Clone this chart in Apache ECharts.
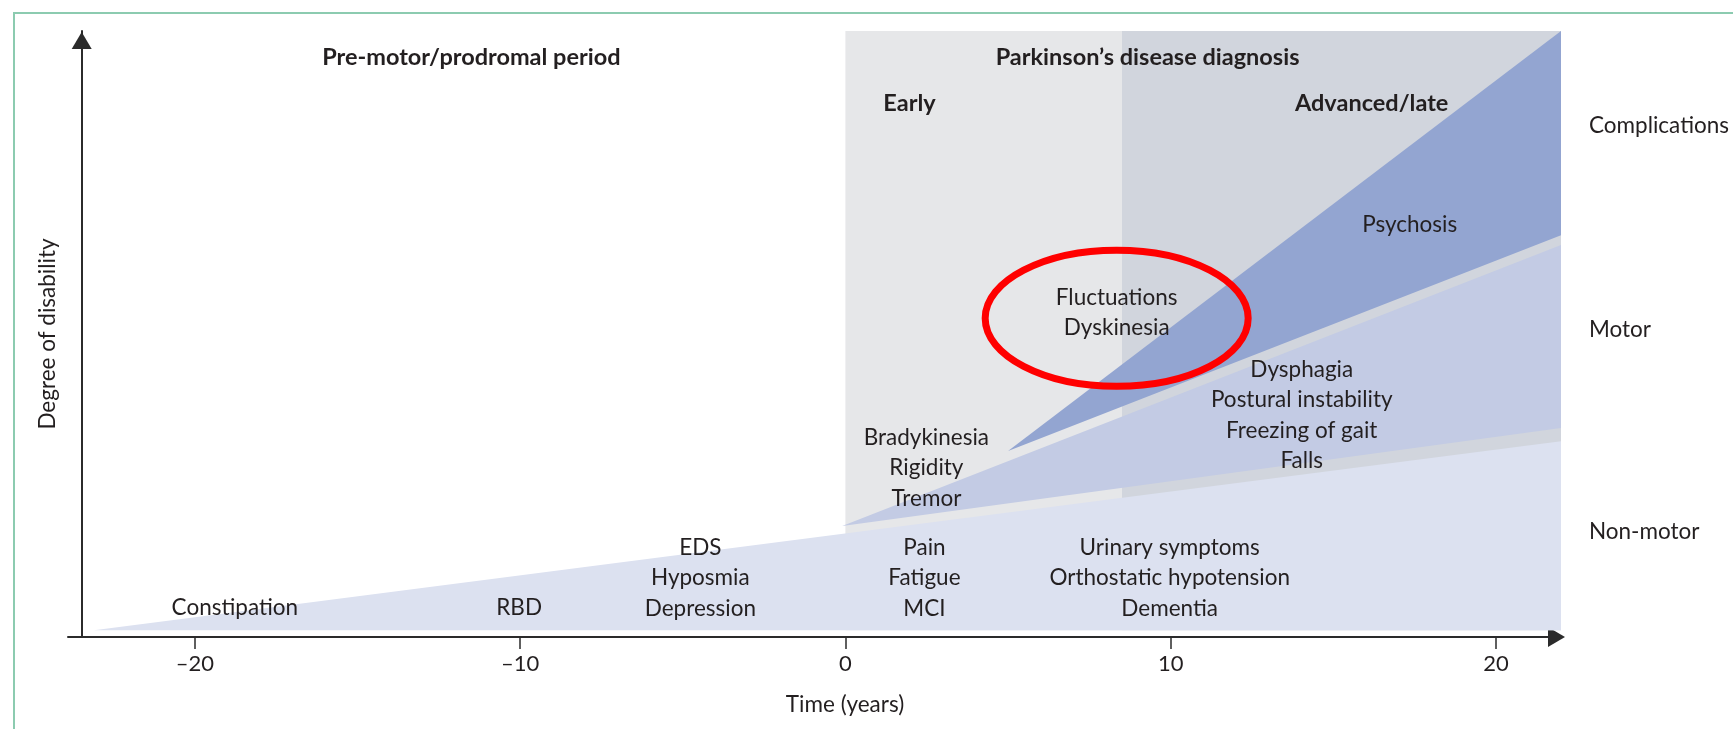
<!DOCTYPE html>
<html>
<head>
<meta charset="utf-8">
<title>Parkinson's disease timeline</title>
<script src="https://cdn.jsdelivr.net/npm/echarts@6/dist/echarts.min.js"></script>
<style>
  html, body { margin: 0; padding: 0; background: #fff; }
  #main { width: 1733px; height: 729px; }
</style>
</head>
<body>
<div id="main"></div>
<script>
// time axis (years from diagnosis)
var tickYears = [-20, -10, 0, 10, 20];
var tickLabels = ['–20', '–10', '0', '10', '20'];

// disease phases, [start year, end year]
var earlyPhase = [0, 8.5];
var advancedPhase = [8.5, 22];

// symptom wedges, [year, degree of disability]
var nonMotor = [[-23.1, 1.1], [22, 32.3], [22, 1.1]];
var motor = [[-0.1, 18.3], [22, 64.7], [22, 34.5]];
var complications = [[5.0, 30.7], [22, 100], [22, 66.3]];

// symptom lists, [year, degree, text]
var symptoms = [
  [-18.77, 4.8, 'Constipation'],
  [-10.03, 4.8, 'RBD'],
  [-4.46, 9.7, 'EDS\nHyposmia\nDepression'],
  [2.43, 9.7, 'Pain\nFatigue\nMCI'],
  [9.97, 9.7, 'Urinary symptoms\nOrthostatic hypotension\nDementia'],
  [2.49, 27.9, 'Bradykinesia\nRigidity\nTremor'],
  [14.03, 36.6, 'Dysphagia\nPostural instability\nFreezing of gait\nFalls'],
  [8.34, 53.5, 'Fluctuations\nDyskinesia'],
  [17.35, 68.0, 'Psychosis']
];

// period headings and wedge names
var headings = [
  [-11.5, 95.7, 'Pre-motor/prodromal period'],
  [9.29, 95.7, 'Parkinson’s disease diagnosis'],
  [1.97, 88.1, 'Early'],
  [16.18, 88.1, 'Advanced/late']
];
var wedgeNames = [
  [22.86, 84.3, 'Complications'],
  [22.86, 50.7, 'Motor'],
  [22.86, 17.3, 'Non-motor']
];

// circled symptoms
var highlight = [8.34, 52.6];

var FONT = 'Lato, "Liberation Sans", sans-serif';
var INK = '#231f20';

function bandPoints(phase) {
  return [[phase[0], 1.1], [phase[1], 1.1], [phase[1], 100], [phase[0], 100]];
}

function shapeSeries(points, color) {
  return {
    type: 'custom',
    clip: false,
    silent: true,
    data: points,
    renderItem: function (params, api) {
      if (params.dataIndex > 0) return;
      var pts = points.map(function (p) { return api.coord(p); });
      return { type: 'polygon', shape: { points: pts }, style: { fill: color } };
    }
  };
}

function textSeries(list, align, weight, size) {
  return {
    type: 'custom',
    clip: false,
    silent: true,
    z: 10,
    data: list.map(function (d) { return [d[0], d[1]]; }),
    renderItem: function (params, api) {
      var d = list[params.dataIndex];
      var p = api.coord([d[0], d[1]]);
      return {
        type: 'text',
        style: {
          text: d[2], x: p[0], y: p[1],
          align: align, verticalAlign: 'middle',
          fontFamily: FONT, fontSize: size, fontWeight: weight,
          lineHeight: 30.5, fill: INK
        }
      };
    }
  };
}

var myChart = echarts.init(document.getElementById('main'));

var option = {
  animation: false,
  backgroundColor: '#fff',
  grid: { left: 68, right: 172, top: 31, bottom: 92 },
  xAxis: {
    type: 'value',
    min: -23.9,
    max: 22,
    axisLine: {
      lineStyle: { color: '#2b2b2b', width: 2 },
      symbol: ['none', 'triangle'],
      symbolSize: [20, 17],
      symbolOffset: [0, -4.5]
    },
    axisTick: { customValues: tickYears, length: 12, lineStyle: { color: '#2b2b2b', width: 1.5 } },
    axisLabel: {
      customValues: tickYears,
      margin: 16,
      fontFamily: FONT, fontSize: 22, color: INK,
      formatter: function (v) { return tickLabels[tickYears.indexOf(v)]; }
    },
    splitLine: { show: false }
  },
  yAxis: {
    type: 'value',
    min: 0,
    max: 100,
    offset: -13.7,
    axisLine: {
      show: true,
      onZero: false,
      lineStyle: { color: '#2b2b2b', width: 2 },
      symbol: ['none', 'triangle'],
      symbolSize: [20, 17],
      symbolOffset: [0, -9.5]
    },
    axisTick: { show: false },
    axisLabel: { show: false },
    splitLine: { show: false }
  },
  graphic: [
    { type: 'rect', silent: true, shape: { x: 14, y: 13, width: 1800, height: 800 },
      style: { fill: 'none', stroke: '#8ccbb0', lineWidth: 2 } },
    { type: 'text', silent: true, x: 48, y: 334, rotation: Math.PI / 2,
      style: { text: 'Degree of disability', align: 'center', verticalAlign: 'middle',
               fontFamily: FONT, fontSize: 22.5, fill: INK } },
    { type: 'text', silent: true, x: 845, y: 705,
      style: { text: 'Time (years)', align: 'center', verticalAlign: 'middle',
               fontFamily: FONT, fontSize: 22.5, fill: INK } }
  ],
  series: [
    shapeSeries(bandPoints(earlyPhase), '#e6e7e9'),
    shapeSeries(bandPoints(advancedPhase), '#d1d5dd'),
    shapeSeries(nonMotor, '#dce1f0'),
    shapeSeries(motor, '#c3cbe4'),
    shapeSeries(complications, '#93a5d1'),
    {
      type: 'custom',
      clip: false,
      silent: true,
      z: 5,
      data: [highlight],
      renderItem: function (params, api) {
        var c = api.coord(highlight);
        return {
          type: 'ellipse',
          shape: { cx: c[0], cy: c[1], rx: 131.5, ry: 68 },
          style: { fill: 'none', stroke: '#ff0000', lineWidth: 7 }
        };
      }
    },
    textSeries(symptoms, 'center', 'normal', 22.5),
    textSeries(headings, 'center', 'bold', 23.5),
    textSeries(wedgeNames, 'left', 'normal', 22.5)
  ]
};

myChart.setOption(option);
</script>
</body>
</html>
